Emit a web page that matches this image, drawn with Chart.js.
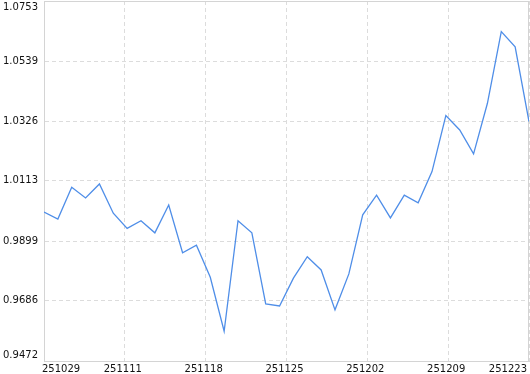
<!DOCTYPE html>
<html>
<head>
<meta charset="utf-8">
<script src="https://cdn.jsdelivr.net/npm/chart.js@4/dist/chart.umd.min.js"></script>
<style>
  html, body { margin: 0; padding: 0; background: #fff; }
  #wrap { width: 530px; height: 374px; }
</style>
</head>
<body>
<div id="wrap"><canvas id="navChart" width="530" height="374"></canvas></div>
<script>
const values = [
    1.0002, 0.9977, 1.0090, 1.0052, 1.0102, 0.9998, 0.9944, 0.9971, 0.9928, 1.0027,
    0.9857, 0.9884, 0.9770, 0.9578, 0.9971, 0.9928, 0.9675, 0.9668, 0.9767, 0.9843,
    0.9796, 0.9654, 0.9782, 0.9992, 1.0062, 0.9981, 1.0062, 1.0035, 1.0146, 1.0345,
    1.0294, 1.0209, 1.0389, 1.0644, 1.0590, 1.0324
];
const xLabels = ['251029', '251111', '251118', '251125', '251202', '251209', '251223'];
const yTicks  = [0.9472, 0.9686, 0.9899, 1.0113, 1.0326, 1.0539, 1.0753];

const lastIdx = values.length - 1;
const tickFont = { family: 'DejaVu Sans', size: 10 };

// thin frame round the plot area
const frame = {
    id: 'frame',
    beforeDatasetsDraw(chart) {
        const a = chart.chartArea, c = chart.ctx;
        c.save();
        c.strokeStyle = '#d4d4d4';
        c.lineWidth = 1;
        c.strokeRect(Math.round(a.left) + 0.5, Math.round(a.top) + 0.5,
                     Math.round(a.right - a.left) - 1, Math.round(a.bottom - a.top));
        c.restore();
    }
};

new Chart(document.getElementById('navChart'), {
    type: 'line',
    data: {
        datasets: [{
            data: values.map((v, i) => ({ x: i, y: v })),
            borderColor: '#4f8ee8',
            borderWidth: 1.3,
            pointRadius: 0,
            tension: 0,
            fill: false,
        }]
    },
    plugins: [frame],
    options: {
        responsive: false,
        animation: false,
        layout: { padding: { top: 1, right: 1, left: 0, bottom: 0 } },
        plugins: {
            legend: { display: false },
            tooltip: { enabled: false },
        },
        scales: {
            x: {
                type: 'linear',
                min: 0,
                max: lastIdx,
                afterBuildTicks: s => {
                    s.ticks = xLabels.map((_, i) => ({ value: i * lastIdx / (xLabels.length - 1) }));
                },
                afterFit: s => {
                    s.height = 13;
                    s.paddingLeft = 0;
                    s.paddingRight = 0;
                },
                ticks: {
                    align: 'inner',
                    padding: 2,
                    labelOffset: -2,
                    maxRotation: 0,
                    autoSkip: false,
                    color: '#111',
                    font: tickFont,
                    callback: (v, i) => xLabels[i],
                },
                grid: {
                    color: '#dcdcdc',
                    drawTicks: false,
                },
                border: { color: '#d4d4d4', dash: [4, 3] },
            },
            y: {
                min: yTicks[0],
                max: yTicks[yTicks.length - 1],
                afterBuildTicks: s => {
                    s.ticks = yTicks.map(v => ({ value: v }));
                },
                afterFit: s => {
                    s.width = 44;
                    s.paddingTop = 0;
                    s.paddingBottom = 0;
                },
                ticks: {
                    padding: 6,
                    color: '#111',
                    font: tickFont,
                    callback: (v, i) => {
                        const t = yTicks[i].toFixed(4);
                        if (i === yTicks.length - 1) return ['', t];
                        if (i === 0) return [t, ''];
                        return t;
                    },
                },
                grid: {
                    color: '#dcdcdc',
                    drawTicks: false,
                },
                border: { color: '#d4d4d4', dash: [4, 3] },
            }
        }
    }
});
</script>
</body>
</html>
